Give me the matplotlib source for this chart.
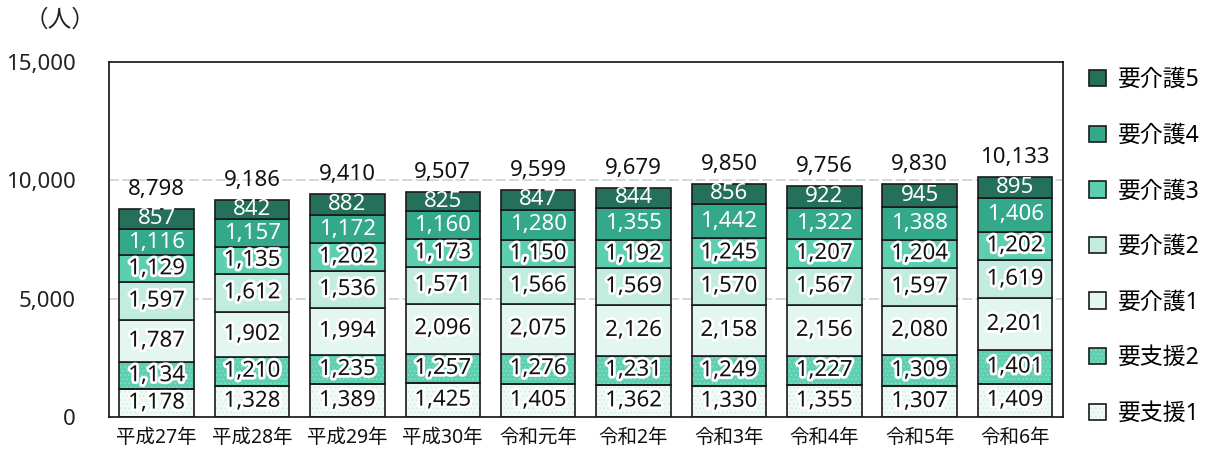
import numpy as np
import matplotlib
matplotlib.use('Agg')
import matplotlib.pyplot as plt
import matplotlib.patheffects as pe
from matplotlib.patches import Patch

plt.rcParams['font.family'] = ['Noto Sans', 'Noto Sans CJK JP', 'DejaVu Sans']
plt.rcParams['hatch.linewidth'] = 0.8

years = ['平成27年', '平成28年', '平成29年', '平成30年', '令和元年',
         '令和2年', '令和3年', '令和4年', '令和5年', '令和6年']
series_names = ['要支援1', '要支援2', '要介護1', '要介護2', '要介護3', '要介護4', '要介護5']
shien1 = [1178, 1328, 1389, 1425, 1405, 1362, 1330, 1355, 1307, 1409]
shien2 = [1134, 1210, 1235, 1257, 1276, 1231, 1249, 1227, 1309, 1401]
kaigo1 = [1787, 1902, 1994, 2096, 2075, 2126, 2158, 2156, 2080, 2201]
kaigo2 = [1597, 1612, 1536, 1571, 1566, 1569, 1570, 1567, 1597, 1619]
kaigo3 = [1129, 1135, 1202, 1173, 1150, 1192, 1245, 1207, 1204, 1202]
kaigo4 = [1116, 1157, 1172, 1160, 1280, 1355, 1442, 1322, 1388, 1406]
kaigo5 = [857, 842, 882, 825, 847, 844, 856, 922, 945, 895]

series = [shien1, shien2, kaigo1, kaigo2, kaigo3, kaigo4, kaigo5]
colors = ['#f1faf7', '#5ccfb0', '#e3f6f0', '#c2ece0', '#5ccfb0', '#34a88a', '#25705a']
dot_colors = ['#d3efe5', '#86dcc4', None, None, None, None, None]
white_text = [False, False, False, False, False, True, True]

fig = plt.figure(figsize=(12.15, 4.57), dpi=100)
ax = fig.add_axes([0.0897, 0.0875, 0.785, 0.777])

x = np.arange(len(years))
w = 0.78
edge = '#1a1a1a'
fs = 16
bottom = np.zeros(len(years))
glow = [pe.withStroke(linewidth=4, foreground='white')]
for vals, c, dc, wt in zip(series, colors, dot_colors, white_text):
    vals = np.array(vals)
    if dc:
        ax.bar(x, vals, w, bottom=bottom, color=c, edgecolor=dc, hatch='....',
               linewidth=0, zorder=2)
        ax.bar(x, vals, w, bottom=bottom, fill=False, edgecolor=edge,
               linewidth=1.2, zorder=3)
    else:
        ax.bar(x, vals, w, bottom=bottom, color=c, edgecolor=edge,
               linewidth=1.2, zorder=3)
    for xi, b, v in zip(x, bottom, vals):
        if wt:
            ax.text(xi, b + v / 2, f'{v:,}', ha='center', va='center', fontsize=fs,
                    color='white', zorder=5)
        else:
            ax.text(xi, b + v / 2, f'{v:,}', ha='center', va='center', fontsize=fs,
                    color='#111111', zorder=5, path_effects=glow)
    bottom = bottom + vals

for xi, t in zip(x, bottom):
    ax.text(xi, t + 380, f'{int(t):,}', ha='center', va='bottom', fontsize=fs,
            color='#111111', zorder=5)

ax.set_xlim(-0.5, len(years) - 0.5)
ax.set_ylim(0, 15000)
ax.set_yticks([0, 5000, 10000, 15000])
ax.set_yticklabels(['0', '5,000', '10,000', '15,000'], fontsize=fs, color='#222222')
ax.set_xticks(x)
ax.set_xticklabels(years, fontsize=14, color='#111111')
ax.tick_params(length=0, axis='both')
ax.tick_params(axis='y', pad=24)
ax.tick_params(axis='x', pad=8)
for y in [5000, 10000]:
    ax.axhline(y, color='#cfcfcf', linestyle=(0, (6, 2)), linewidth=1.2, zorder=1)
for s in ax.spines.values():
    s.set_color('#111111')
    s.set_linewidth(1.2)

fig.text(0.049, 0.955, '（人）', fontsize=17, ha='center', va='center', color='#222222')

handles = []
for c, dc in zip(colors, dot_colors):
    if dc:
        handles.append((Patch(facecolor=c, edgecolor=dc, linewidth=0, hatch='....'),
                        Patch(fill=False, edgecolor=edge, linewidth=1.2)))
    else:
        handles.append(Patch(facecolor=c, edgecolor=edge, linewidth=1.2))
leg = fig.legend(handles[::-1], series_names[::-1], loc='upper left',
                 bbox_to_anchor=(0.889, 0.871), frameon=False, fontsize=16.5,
                 handlelength=0.72, handleheight=0.72, handletextpad=0.55,
                 labelspacing=1.38, borderaxespad=0)

fig.savefig('out.png', dpi=100)
